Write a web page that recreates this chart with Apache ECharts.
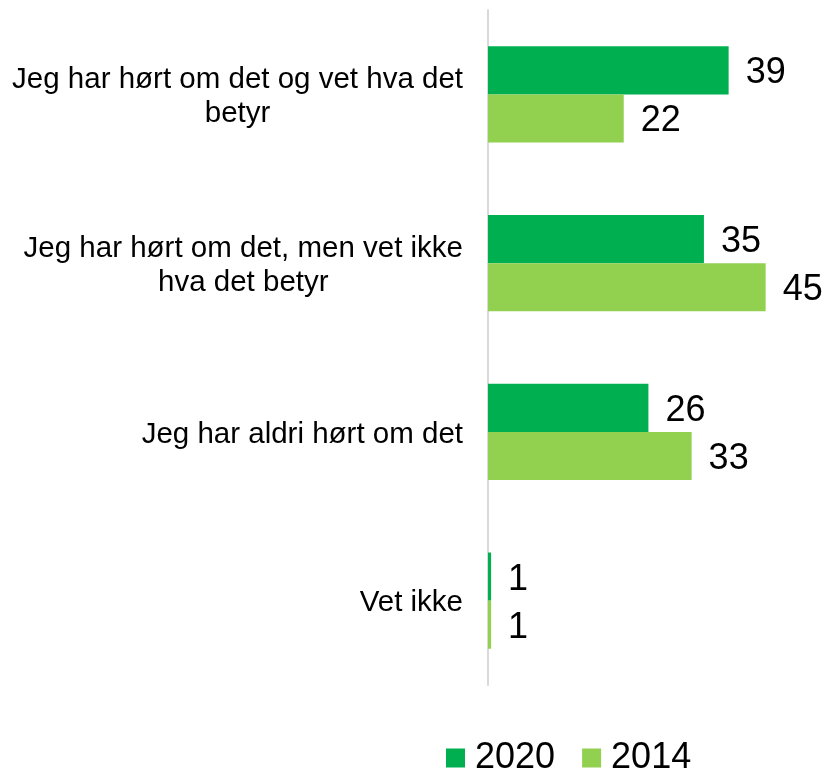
<!DOCTYPE html>
<html>
<head>
<meta charset="utf-8">
<script src="https://cdn.jsdelivr.net/npm/echarts@6/dist/echarts.min.js"></script>
<style>
  html, body { margin: 0; padding: 0; background: #fff; }
  #chart { width: 828px; height: 771px; }
</style>
</head>
<body>
<div id="chart"></div>
<script>
  // kategorier (linjeskift som i originalen)
  var categories = [
    'Jeg har hørt om det og vet hva det\nbetyr',
    'Jeg har hørt om det, men vet ikke\nhva det betyr',
    'Jeg har aldri hørt om det',
    'Vet ikke'
  ];
  var seriesNames = ['2020', '2014'];
  var values2020 = [39, 35, 26, 0.5];
  var values2014 = [22, 45, 33, 0.5];

  var font = 'Liberation Sans, Arial, sans-serif';
  var myChart = echarts.init(document.getElementById('chart'));

  function barLabel() {
    return {
      show: true,
      position: 'right',
      distance: 17,
      offset: [0, 3],
      color: '#000',
      fontFamily: font,
      fontSize: 36,
      formatter: function (p) {
        return Math.round(p.value);
      }
    };
  }

  var option = {
    backgroundColor: '#fff',
    animation: false,
    color: ['#00B050', '#92D050'],
    grid: {
      left: 488,
      right: 31.5,
      top: 10,
      bottom: 86
    },
    legend: {
      data: seriesNames,
      left: 446,
      top: 738,
      padding: 0,
      itemWidth: 19,
      itemHeight: 19,
      itemGap: 27,
      icon: 'rect',
      textStyle: {
        color: '#000',
        fontFamily: font,
        fontSize: 36,
        lineHeight: 40,
        padding: [0, 0, 0, 5]
      }
    },
    xAxis: {
      type: 'value',
      min: 0,
      max: 50,
      show: false
    },
    yAxis: {
      type: 'category',
      inverse: true,
      data: categories,
      axisTick: { show: false },
      axisLine: {
        show: true,
        lineStyle: { color: '#d9d9d9', width: 2 }
      },
      axisLabel: {
        margin: 25,
        padding: [5, 0, 0, 0],
        formatter: function (value) {
          return value.split('\n').map(function (l) {
            return '{c|' + l + '}';
          }).join('\n');
        },
        rich: {
          c: {
            align: 'center',
            color: '#000',
            fontFamily: font,
            fontSize: 29.5,
            lineHeight: 34
          }
        }
      }
    },
    series: [
      {
        name: seriesNames[0],
        type: 'bar',
        barGap: 0,
        barCategoryGap: '43%',
        label: barLabel(),
        data: values2020
      },
      {
        name: seriesNames[1],
        type: 'bar',
        barGap: 0,
        barCategoryGap: '43%',
        label: barLabel(),
        data: values2014
      }
    ]
  };
  myChart.setOption(option, true);
</script>
</body>
</html>
